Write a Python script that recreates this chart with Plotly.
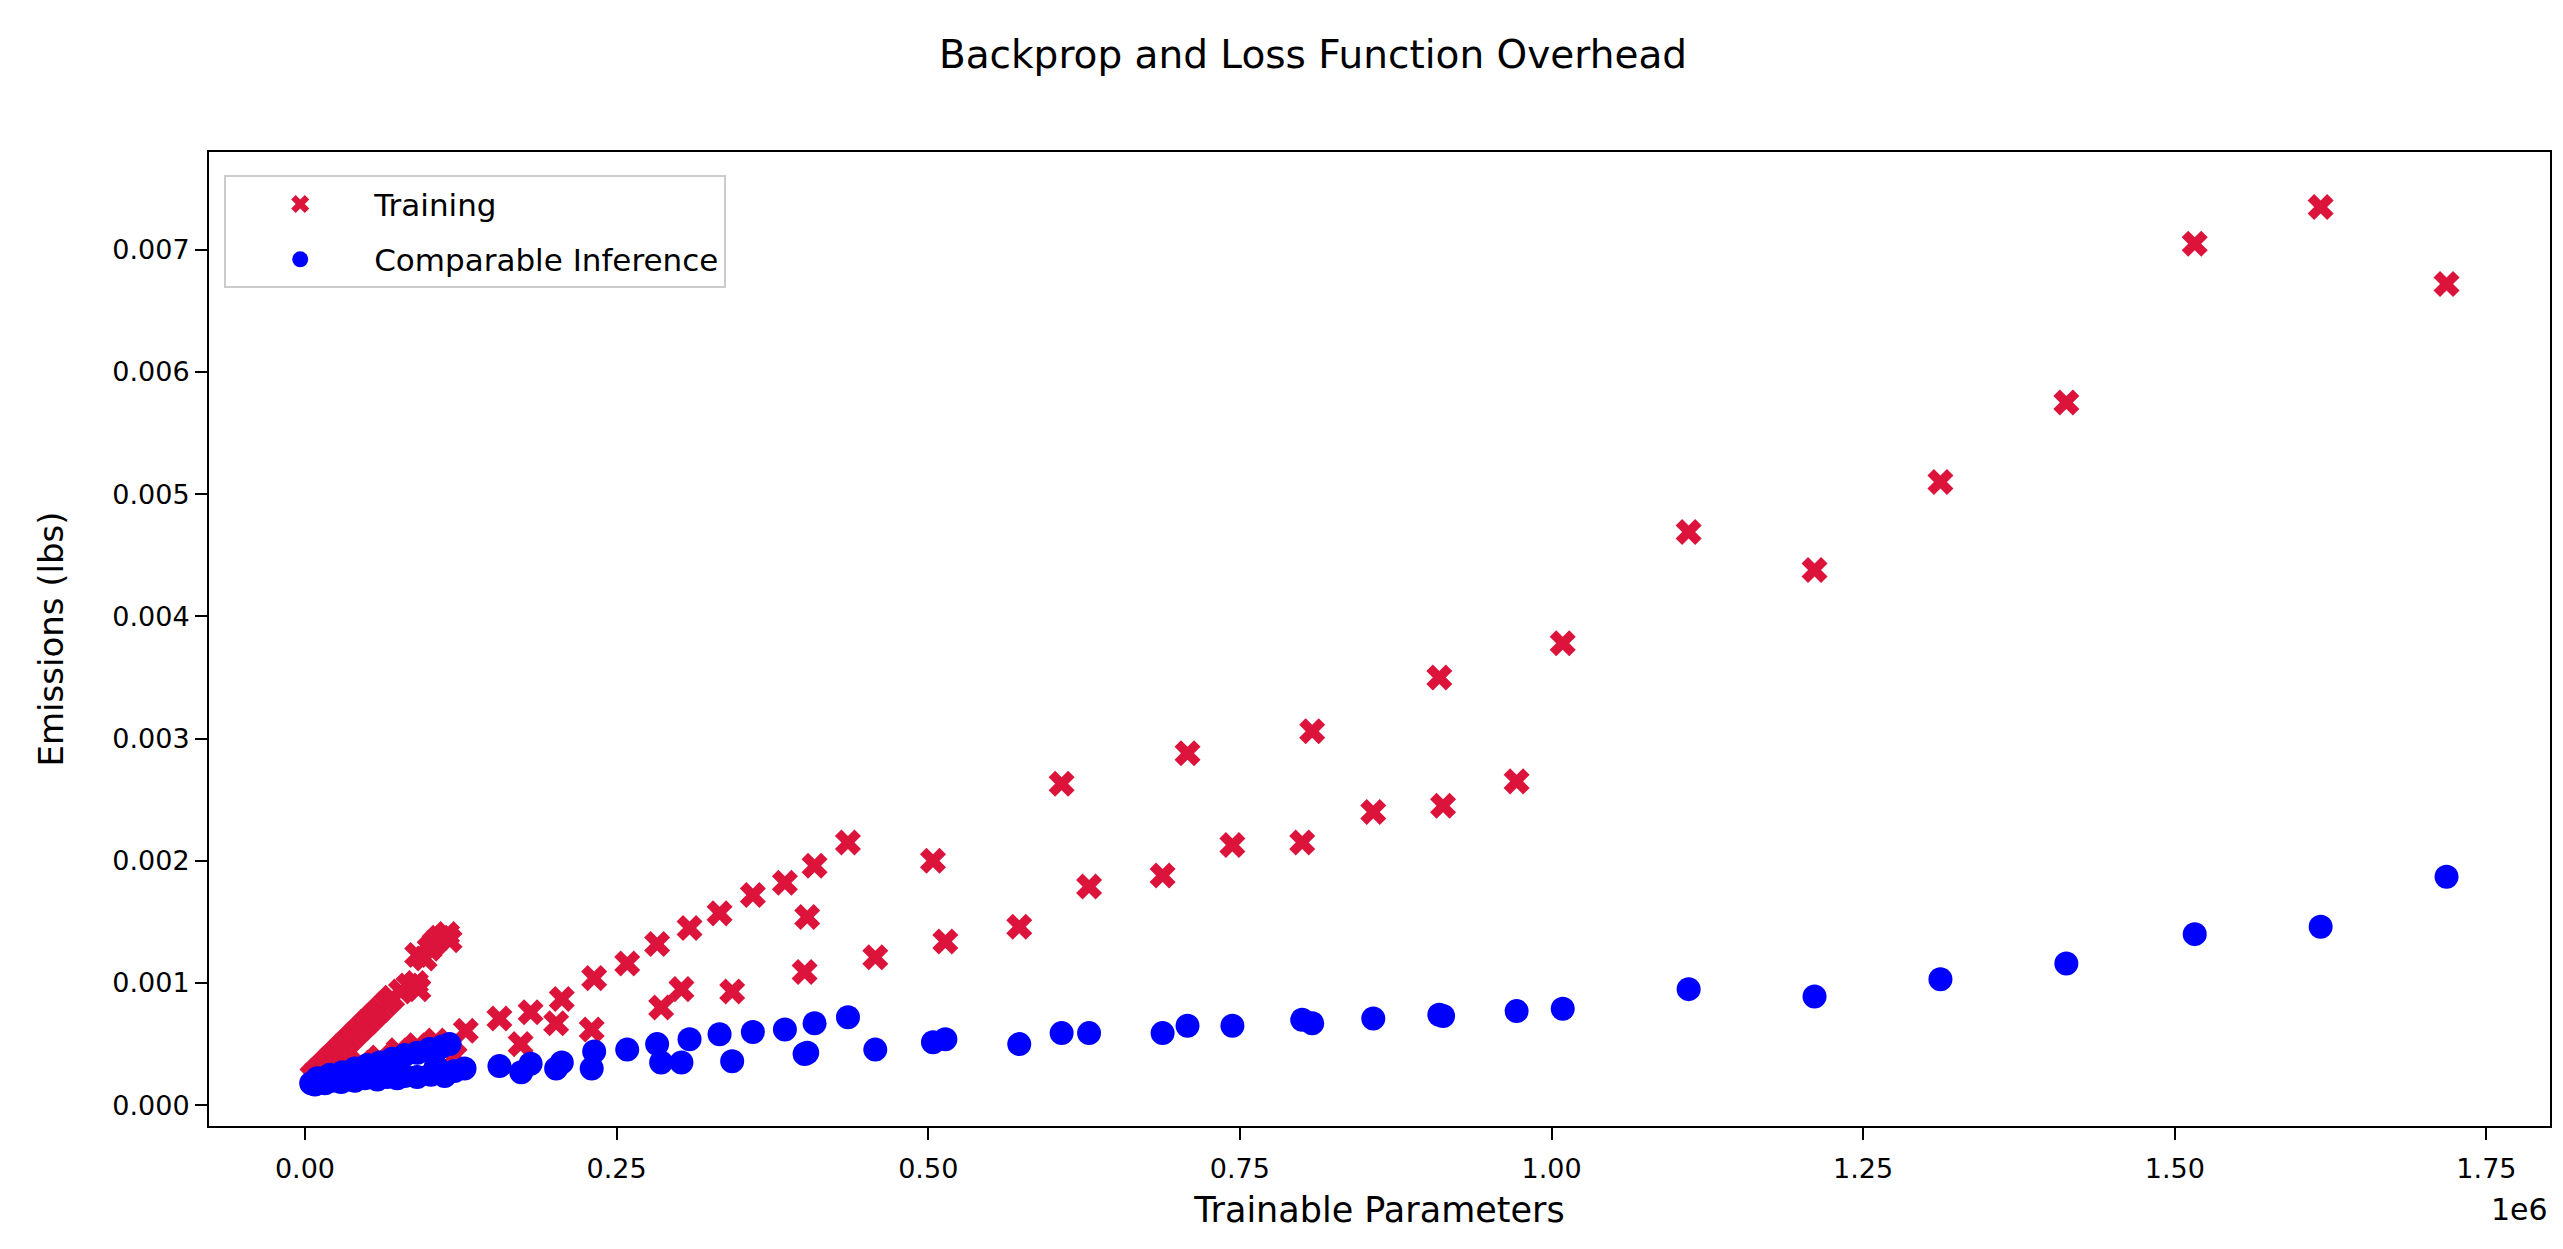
import plotly.graph_objects as go

# ---------------- data ----------------
train_x = [
    6000, 10000, 15000, 20000, 25000, 30000, 35000, 40000, 45000, 50000, 55000, 60000, 65000, 70000,
    77000, 83000, 89000, 91000,
    90000, 96000, 100000, 104000, 108000, 114000, 116000,
    15000, 30000, 45000, 60000, 75000, 90000, 105000, 120000,
    129000, 156000, 173000,
    181000, 206000, 201500, 232000, 230000, 258500, 282500, 285700, 302000, 308500,
    332600, 342700, 359300, 385000, 402900, 400800, 408800, 435600, 457500, 503800, 513700,
    573000, 607000, 629000, 688000, 708000, 744000, 800000, 808000, 857000, 910000,
    913000, 972000, 1009000, 1110000, 1211000, 1312000, 1413000, 1516000, 1617000, 1718000,
]
train_y = [
    0.00024, 0.00028, 0.00033, 0.00038, 0.00043, 0.00048, 0.00053, 0.00058, 0.00063, 0.00068, 0.00073, 0.00078, 0.00083, 0.00088,
    0.00093, 0.00098, 0.00100, 0.00095,
    0.00123, 0.00120, 0.00128, 0.00133, 0.00137, 0.00140, 0.00135,
    0.00027, 0.00031, 0.00035, 0.00039, 0.00045, 0.00049, 0.00053, 0.00040,
    0.00061, 0.00071, 0.00050,
    0.00076, 0.00087, 0.00067, 0.00104, 0.00062, 0.00116, 0.00132, 0.00080, 0.00095, 0.00145,
    0.00157, 0.00093, 0.00172, 0.00182, 0.00154, 0.00109, 0.00196, 0.00215, 0.00121, 0.00200, 0.00134,
    0.00146, 0.00263, 0.00179, 0.00188, 0.00288, 0.00213, 0.00215, 0.00306, 0.00240, 0.00350,
    0.00245, 0.00265, 0.00378, 0.00469, 0.00438, 0.00510, 0.00575, 0.00705, 0.00735, 0.00672,
]

infer_x = [
    5000, 8000, 12000, 16000, 22000, 29000, 35000, 40000, 48000, 58000, 66000, 74000, 80000, 90000, 101000, 112000, 128000,
    10000, 20000, 30000, 40000, 50000, 60000, 70000, 80000, 90000, 100000, 110000, 116000,
    45000, 75000, 105000, 120000,
    156000, 173500, 181000, 201500, 206000, 230000, 232000, 258500, 282500, 285700, 302000, 308500,
    332600, 342700, 359300, 385000, 402900, 400800, 408800, 435600, 457500, 503800, 513700,
    573000, 607000, 629000, 688000, 708000, 744000, 800000, 808000, 857000, 910000,
    913000, 972000, 1009000, 1110000, 1211000, 1312000, 1413000, 1516000, 1617000, 1718000,
]
infer_y = [
    0.00018, 0.00017, 0.00019, 0.00018, 0.00020, 0.00019, 0.00021, 0.00020, 0.00022, 0.00021, 0.00023, 0.00022, 0.00024, 0.00023, 0.00025, 0.00024, 0.00030,
    0.00022, 0.00025, 0.00027, 0.00030, 0.00033, 0.00035, 0.00038, 0.00041, 0.00043, 0.00046, 0.00048, 0.00050,
    0.00026, 0.00029, 0.00032, 0.00028,
    0.00032, 0.00027, 0.00034, 0.00030, 0.00035, 0.00030, 0.00044, 0.000455, 0.00050, 0.00035, 0.00035, 0.00054,
    0.00058, 0.00036, 0.00060, 0.00062, 0.00043, 0.00042, 0.00067, 0.00072, 0.000455, 0.000515, 0.00054,
    0.00050, 0.00059, 0.00059, 0.00059, 0.00065, 0.00065, 0.00070, 0.00067, 0.00071, 0.00074,
    0.00073, 0.00077, 0.00079, 0.00095, 0.00089, 0.00103, 0.00116, 0.00140, 0.00146, 0.00187,
]

x_tickvals = [0, 250000, 500000, 750000, 1000000, 1250000, 1500000, 1750000]
x_ticktext = ["0.00", "0.25", "0.50", "0.75", "1.00", "1.25", "1.50", "1.75"]
y_tickvals = [0.000, 0.001, 0.002, 0.003, 0.004, 0.005, 0.006, 0.007]
y_ticktext = ["0.000", "0.001", "0.002", "0.003", "0.004", "0.005", "0.006", "0.007"]

FONT = "DejaVu Sans"
W, H = 2563, 1249
L, R, T, B = 201, 21, 144, 131

fig = go.Figure()
fig.add_trace(go.Scatter(
    x=train_x, y=train_y, mode="markers", name="Training", legendgroup="train",
    marker=dict(symbol="x", size=23, color="crimson", line=dict(width=0)),
))
fig.add_trace(go.Scatter(
    x=infer_x, y=infer_y, mode="markers", name="Comparable Inference", legendgroup="infer",
    marker=dict(symbol="circle", size=24, color="blue", line=dict(width=0)),
))

axis_common = dict(
    showgrid=False, zeroline=False, showline=True, linecolor="black", linewidth=2,
    mirror=True, ticks="outside", ticklen=12, tickwidth=2, tickcolor="black",
    tickfont=dict(family=FONT, size=27, color="black"),
)

fig.update_layout(
    width=W, height=H,
    margin=dict(l=L, r=R, t=T, b=B),
    paper_bgcolor="white", plot_bgcolor="white",
    font=dict(family=FONT, size=27, color="black"),
    title=dict(text="Backprop and Loss Function Overhead", x=1305 / W, xref="container",
               xanchor="center", y=1 - 46 / H, yref="container", yanchor="middle",
               font=dict(family=FONT, size=39, color="black")),
    xaxis=dict(range=[-77000, 1801000], tickvals=x_tickvals, ticktext=x_ticktext,
               ticklabelstandoff=6,
               title=dict(text="Trainable Parameters", standoff=14,
                          font=dict(family=FONT, size=35, color="black")),
               **axis_common),
    yaxis=dict(range=[-0.00017, 0.0078], tickvals=y_tickvals, ticktext=y_ticktext,
               title=dict(text="Emissions (lbs)", standoff=38,
                          font=dict(family=FONT, size=34, color="black")),
               **axis_common),
    legend=dict(x=0.0065, y=0.976, xanchor="left", yanchor="top",
                bgcolor="rgba(255,255,255,0.8)", bordercolor="#cccccc", borderwidth=2,
                font=dict(family=FONT, size=31, color="black"), itemsizing="trace",
                itemwidth=138, tracegroupgap=12),
    annotations=[dict(text="1e6", xref="paper", yref="paper", x=1.0, y=-0.066,
                      xanchor="right", yanchor="top", showarrow=False,
                      font=dict(family=FONT, size=30, color="black"))],
    showlegend=True,
)

fig.write_html("out.html")
